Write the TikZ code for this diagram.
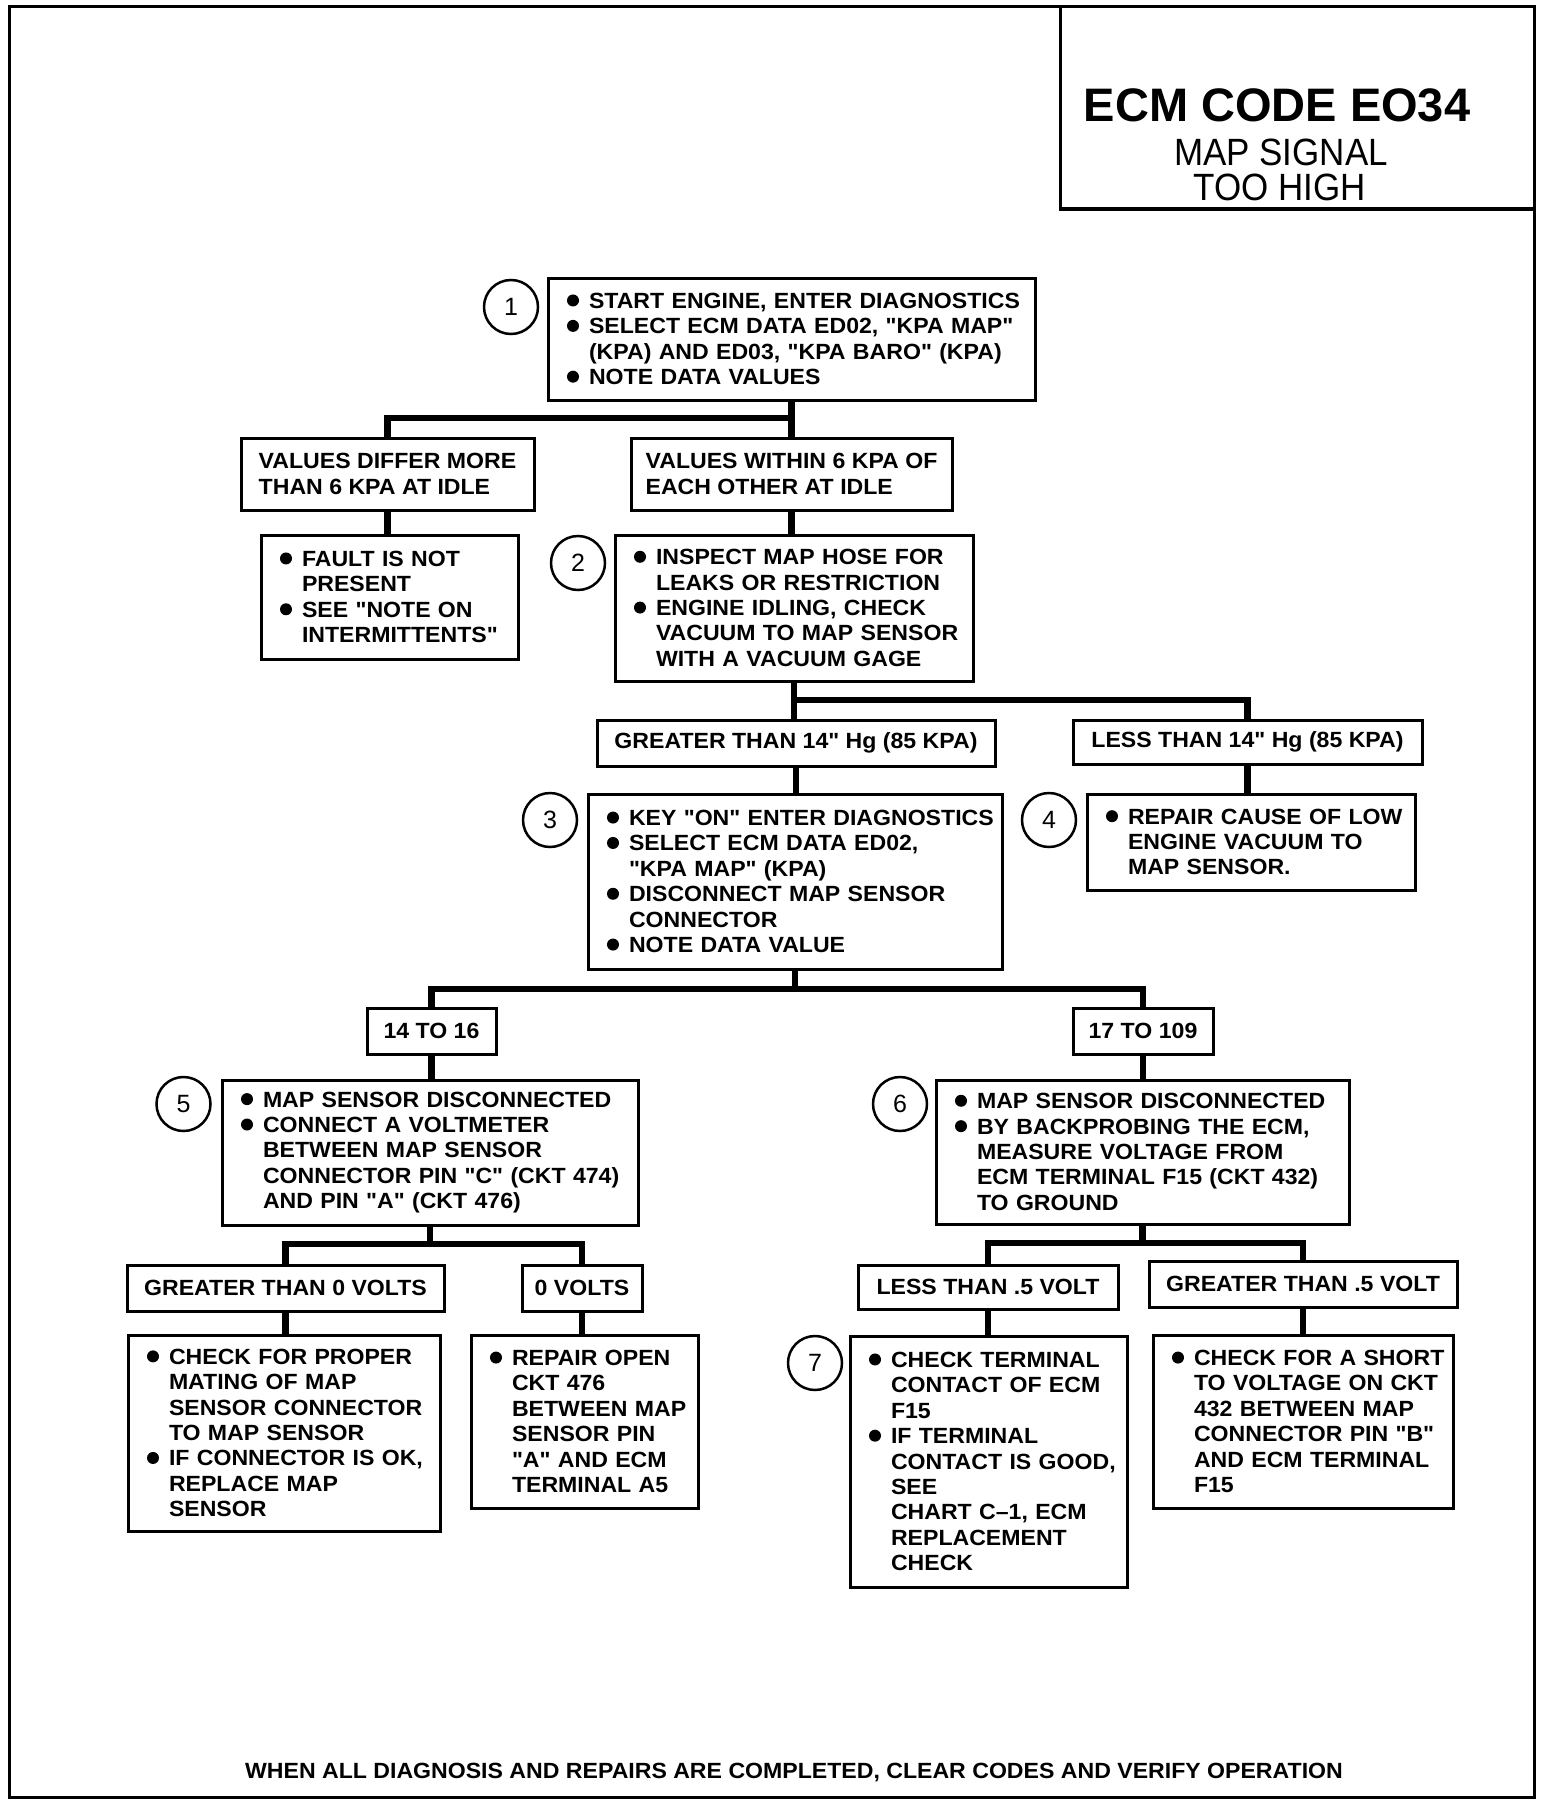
\documentclass[tikz,border=0pt]{standalone}
\usepackage{fontspec}
\setmainfont{Liberation Sans}
\newfontfamily\bodyf{Liberation Sans}[FakeStretch=1.05]
\newfontfamily\condf{Liberation Sans}[FakeStretch=0.92]
\newcommand\bulletmark{\tikz[baseline=0pt]\fill (6pt,8pt) circle[radius=6pt];}
\newcommand\bi[1]{\makebox[22pt][l]{\bulletmark}\mbox{#1}}
\newcommand\ci[1]{\hspace*{22pt}\mbox{#1}}
\begin{document}
\begin{tikzpicture}[x=1pt,y=-1pt,
  bbox/.style={draw, line width=3pt, inner xsep=19pt, inner ysep=0pt, align=left,
    font=\bodyf\bfseries\fontsize{22}{25.4}\selectfont},
  lbox/.style={draw, line width=3pt, inner sep=0pt, align=left,
    font=\bodyf\bfseries\fontsize{22}{25.4}\selectfont},
  numc/.style={draw, circle, line width=2.5pt, minimum size=54pt, inner sep=0pt,
    font=\fontsize{25}{25}\selectfont},
  conn/.style={line width=6.5pt, line join=miter}]
\useasboundingbox (0,0) rectangle (1552,1806);
% frame and title
\draw[line width=3pt] (9,7) rectangle (1534,1797);
\draw[line width=3pt] (1060,7) rectangle (1534,209);
\node[inner sep=0pt, font=\bfseries\fontsize{47}{47}\selectfont] (t1) at (1277,105) {ECM CODE EO34};
\node[inner sep=0pt, font=\condf\fontsize{38}{38}\selectfont] (t2) at (1281,152) {MAP SIGNAL};
\node[inner sep=0pt, font=\condf\fontsize{38}{38}\selectfont] (t3) at (1280,187) {TOO HIGH};
% step 1
\node[bbox, minimum width=487pt, minimum height=122pt, text width=449pt] (b1) at (791.5,339)
 {\bi{START ENGINE, ENTER DIAGNOSTICS}\\\bi{SELECT ECM DATA ED02, "KPA MAP"}\\\ci{(KPA) AND ED03, "KPA BARO"\ (KPA)}\\\bi{NOTE DATA VALUES}};
\node[numc] (n1) at (511,307) {1};
\node[lbox, minimum width=293pt, minimum height=72pt] (vd) at (387.5,474) {VALUES DIFFER MORE\\THAN 6 KPA AT IDLE};
\node[lbox, minimum width=321pt, minimum height=72pt] (vw) at (791.5,474) {VALUES WITHIN 6 KPA OF\\EACH OTHER AT IDLE};
\node[bbox, minimum width=257pt, minimum height=124pt, text width=219pt] (fault) at (389.5,597)
 {\bi{FAULT IS NOT}\\\ci{PRESENT}\\\bi{SEE "NOTE ON}\\\ci{INTERMITTENTS"}};
\node[bbox, minimum width=358pt, minimum height=146pt, text width=320pt] (b2) at (794,608)
 {\bi{INSPECT MAP HOSE FOR}\\\ci{LEAKS OR RESTRICTION}\\\bi{ENGINE IDLING, CHECK}\\\ci{VACUUM TO MAP SENSOR}\\\ci{WITH A VACUUM GAGE}};
\node[numc] (n2) at (578,563) {2};
\node[lbox, minimum width=398pt, minimum height=46pt] (gt14) at (796,743) {GREATER THAN 14" Hg (85 KPA)};
\node[lbox, minimum width=349pt, minimum height=44pt] (lt14) at (1247.5,742) {LESS THAN 14" Hg (85 KPA)};
\node[bbox, minimum width=414pt, minimum height=175pt, text width=376pt] (b3) at (795,881.5)
 {\bi{KEY "ON" ENTER DIAGNOSTICS}\\\bi{SELECT ECM DATA ED02,}\\\ci{"KPA MAP" (KPA)}\\\bi{DISCONNECT MAP SENSOR}\\\ci{CONNECTOR}\\\bi{NOTE DATA VALUE}};
\node[numc] (n3) at (550,820) {3};
\node[bbox, minimum width=328pt, minimum height=96pt, text width=290pt] (b4) at (1251,842)
 {\bi{REPAIR CAUSE OF LOW}\\\ci{ENGINE VACUUM TO}\\\ci{MAP SENSOR.}};
\node[numc] (n4) at (1049,820) {4};
\node[lbox, minimum width=129pt, minimum height=46pt] (r1416) at (431.5,1031) {14 TO 16};
\node[lbox, minimum width=140pt, minimum height=46pt] (r17109) at (1143,1031) {17 TO 109};
\node[bbox, minimum width=416pt, minimum height=145pt, text width=378pt] (b5) at (430,1152.5)
 {\bi{MAP SENSOR DISCONNECTED}\\\bi{CONNECT A VOLTMETER}\\\ci{BETWEEN MAP SENSOR}\\\ci{CONNECTOR PIN "C"\ (CKT 474)}\\\ci{AND PIN "A"\ (CKT 476)}};
\node[numc] (n5) at (183.5,1104) {5};
\node[bbox, minimum width=413pt, minimum height=144pt, text width=375pt] (b6) at (1142.5,1152)
 {\bi{MAP SENSOR DISCONNECTED}\\\bi{BY BACKPROBING THE ECM,}\\\ci{MEASURE VOLTAGE FROM}\\\ci{ECM TERMINAL F15 (CKT 432)}\\\ci{TO GROUND}};
\node[numc] (n6) at (900,1104) {6};
\node[lbox, minimum width=317pt, minimum height=46pt] (gt0) at (285.5,1288) {GREATER THAN 0 VOLTS};
\node[lbox, minimum width=120pt, minimum height=46pt] (v0) at (582,1288) {0 VOLTS};
\node[bbox, minimum width=312pt, minimum height=196pt, text width=274pt] (chk) at (284,1433)
 {\bi{CHECK FOR PROPER}\\\ci{MATING OF MAP}\\\ci{SENSOR CONNECTOR}\\\ci{TO MAP SENSOR}\\\bi{IF CONNECTOR IS OK,}\\\ci{REPLACE MAP}\\\ci{SENSOR}};
\node[bbox, minimum width=227pt, minimum height=173pt, text width=189pt] (rep) at (584.5,1421.5)
 {\bi{REPAIR OPEN}\\\ci{CKT 476}\\\ci{BETWEEN MAP}\\\ci{SENSOR PIN}\\\ci{"A" AND ECM}\\\ci{TERMINAL A5}};
\node[lbox, minimum width=260pt, minimum height=44pt] (lt5) at (988,1287) {LESS THAN .5 VOLT};
\node[lbox, minimum width=308pt, minimum height=46pt] (gt5) at (1303,1284) {GREATER THAN .5 VOLT};
\node[bbox, minimum width=277pt, minimum height=251pt, text width=239pt] (b7) at (988.5,1461.5)
 {\bi{CHECK TERMINAL}\\\ci{CONTACT OF ECM}\\\ci{F15}\\\bi{IF TERMINAL}\\\ci{CONTACT IS GOOD,}\\\ci{SEE}\\\ci{CHART C–1, ECM}\\\ci{REPLACEMENT}\\\ci{CHECK}};
\node[numc] (n7) at (815,1363) {7};
\node[bbox, minimum width=300pt, minimum height=173pt, text width=262pt] (sht) at (1303,1421.5)
 {\bi{CHECK FOR A SHORT}\\\ci{TO VOLTAGE ON CKT}\\\ci{432 BETWEEN MAP}\\\ci{CONNECTOR PIN "B"}\\\ci{AND ECM TERMINAL}\\\ci{F15}};
\node[inner sep=0pt, font=\bodyf\bfseries\fontsize{22}{22}\selectfont] (foot) at (794,1772)
 {WHEN ALL DIAGNOSIS AND REPAIRS ARE COMPLETED, CLEAR CODES AND VERIFY OPERATION};
% connectors
\draw[conn] (b1.south) -- (b1.south |- 0,418) coordinate (j1) -| (vd.north);
\draw[conn] (j1) -- (j1 |- vw.north);
\draw[conn] (vd.south) -- (vd.south |- fault.north);
\draw[conn] (vw.south) -- (vw.south |- b2.north);
\draw[conn] (b2.south) -- (b2.south |- 0,700) coordinate (j2) -| (lt14.north);
\draw[conn] (j2) -- (j2 |- gt14.north);
\draw[conn] (gt14.south) -- (gt14.south |- b3.north);
\draw[conn] (lt14.south) -- (lt14.south |- b4.north);
\draw[conn] (b3.south) -- (b3.south |- 0,989) coordinate (j3);
\draw[conn] (r1416.north) |- (j3) -| (r17109.north);
\draw[conn] (r1416.south) -- (r1416.south |- b5.north);
\draw[conn] (r17109.south) -- (r17109.south |- b6.north);
\draw[conn] (b5.south) -- (b5.south |- 0,1244) coordinate (j5);
\draw[conn] (gt0.north) |- (j5) -| (v0.north);
\draw[conn] (gt0.south) -- (gt0.south |- chk.north);
\draw[conn] (v0.south) -- (v0.south |- rep.north);
\draw[conn] (b6.south) -- (b6.south |- 0,1243) coordinate (j6);
\draw[conn] (lt5.north) |- (j6) -| (gt5.north);
\draw[conn] (lt5.south) -- (lt5.south |- b7.north);
\draw[conn] (gt5.south) -- (gt5.south |- sht.north);
\end{tikzpicture}
\end{document}
